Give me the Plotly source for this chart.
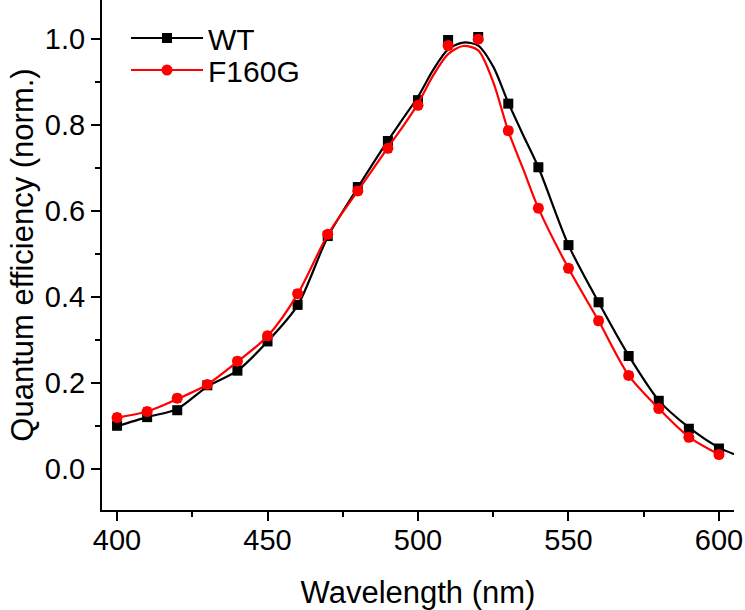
import plotly.graph_objects as go

# measured points (markers with error bars)
wavelength = [400, 410, 420, 430, 440, 450, 460, 470, 480, 490, 500,
              510, 520, 530, 540, 550, 560, 570, 580, 590, 600]
wt = [0.101, 0.121, 0.137, 0.195, 0.229, 0.297, 0.382, 0.542, 0.656, 0.763, 0.858,
      0.998, 1.005, 0.850, 0.702, 0.521, 0.388, 0.263, 0.159, 0.094, 0.048]
f160g = [0.120, 0.134, 0.165, 0.197, 0.251, 0.310, 0.408, 0.546, 0.647, 0.746, 0.846,
         0.985, 1.000, 0.787, 0.607, 0.467, 0.345, 0.218, 0.141, 0.074, 0.034]
wt_err = [0.008] * len(wavelength)
f160g_err = [0.008] * len(wavelength)

# smooth curves
wt_fit_x = [400, 410, 420, 430, 440, 450, 460, 470, 480, 490, 495, 500, 505, 510,
            515, 520, 525, 530, 535, 540, 550, 560, 570, 580, 590, 600, 605]
wt_fit_y = [0.100, 0.121, 0.140, 0.192, 0.229, 0.297, 0.381, 0.540, 0.655, 0.764, 0.815,
            0.866, 0.928, 0.976, 0.992, 0.985, 0.936, 0.852, 0.776, 0.702, 0.521,
            0.388, 0.264, 0.160, 0.097, 0.050, 0.035]
f160g_fit_x = [400, 410, 420, 430, 440, 450, 460, 470, 480, 490, 495, 500, 505, 510,
               515, 520, 525, 530, 535, 540, 550, 560, 570, 580, 590, 600]
f160g_fit_y = [0.120, 0.134, 0.163, 0.197, 0.250, 0.309, 0.407, 0.545, 0.647, 0.748,
               0.797, 0.850, 0.915, 0.965, 0.984, 0.974, 0.900, 0.786, 0.697, 0.607,
               0.467, 0.345, 0.218, 0.141, 0.075, 0.034]

FONT = "Arial, Liberation Sans, sans-serif"
BLACK, RED = "#000000", "#ff0000"

fig = go.Figure()

series = [
    ("WT", wt_fit_x, wt_fit_y, wt, wt_err, BLACK, "square", 10, "legend"),
    ("F160G", f160g_fit_x, f160g_fit_y, f160g, f160g_err, RED, "circle", 11, "legend2"),
]
for name, fx, fy, ys, err, color, sym, size, leg in series:
    fig.add_trace(go.Scatter(
        x=fx, y=fy, mode="lines",
        line=dict(color=color, width=2.2, shape="spline", smoothing=0.8),
        showlegend=False, hoverinfo="skip",
    ))
    fig.add_trace(go.Scatter(
        x=wavelength, y=ys, mode="markers", name=name, showlegend=False,
        marker=dict(symbol=sym, size=size, color=color, line=dict(width=0)),
        error_y=dict(type="data", array=err, color=color, thickness=2, width=4),
    ))
    # legend entry: line + marker
    fig.add_trace(go.Scatter(
        x=[None], y=[None], mode="lines+markers", name=name, legend=leg,
        line=dict(color=color, width=2.2),
        marker=dict(symbol=sym, size=size, color=color),
    ))

leg_style = dict(xanchor="left", yanchor="middle", bgcolor="rgba(0,0,0,0)",
                 font=dict(size=30), itemwidth=72)
fig.update_layout(
    width=745, height=610,
    paper_bgcolor="white", plot_bgcolor="white",
    margin=dict(l=102, r=11, t=0, b=100),
    font=dict(family=FONT, size=29, color="black"),
    legend=dict(x=0.038, y=1 - 38 / 510, **leg_style),
    legend2=dict(x=0.038, y=1 - 70 / 510, **leg_style),
)
fig.update_xaxes(
    range=[395, 605], tickvals=[400, 450, 500, 550, 600],
    showline=True, linecolor="black", linewidth=2, mirror=False,
    ticks="outside", ticklen=9, tickwidth=2, tickcolor="black",
    ticklabelstandoff=-6,
    minor=dict(tickvals=[425, 475, 525, 575], ticks="outside", ticklen=5,
               tickwidth=2, tickcolor="black"),
    showgrid=False, zeroline=False, automargin=False,
    title=dict(text="Wavelength (nm)", font=dict(size=31), standoff=27),
)
fig.update_yaxes(
    range=[-0.095, 1.091], tickvals=[0.0, 0.2, 0.4, 0.6, 0.8, 1.0], tickformat=".1f",
    showline=True, linecolor="black", linewidth=2, mirror=False,
    ticks="outside", ticklen=9, tickwidth=2, tickcolor="black",
    minor=dict(tickvals=[0.1, 0.3, 0.5, 0.7, 0.9], ticks="outside", ticklen=5,
               tickwidth=2, tickcolor="black"),
    showgrid=False, zeroline=False, automargin=False,
    title=dict(text="Quantum efficiency (norm.)", font=dict(size=31), standoff=2),
)

fig.write_html("out.html", config={"displayModeBar": False},
               post_script="document.body.style.margin = '0px';")
